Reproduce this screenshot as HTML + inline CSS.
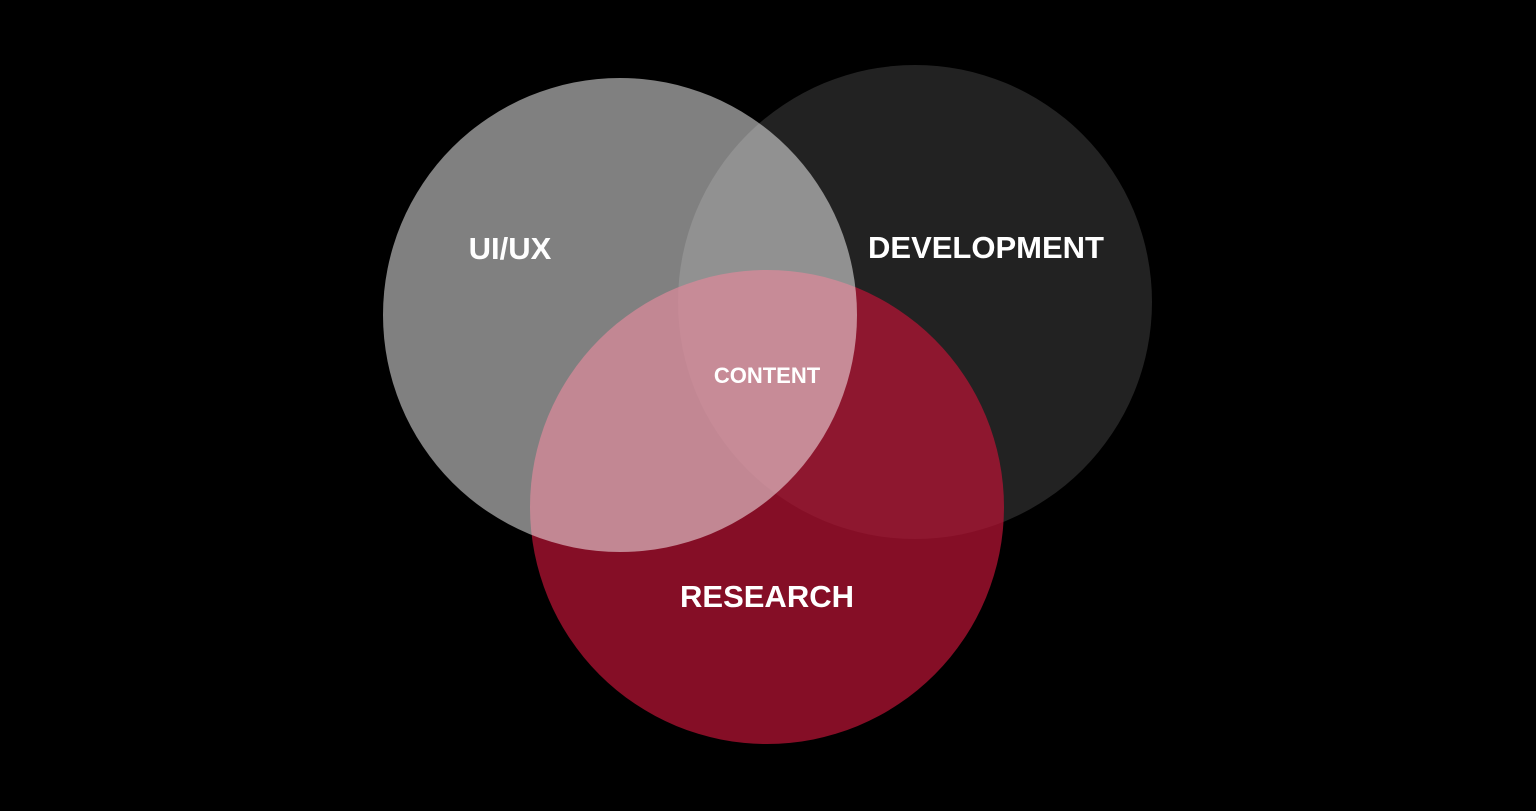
<!DOCTYPE html>
<html><head><meta charset="utf-8"><style>
html,body{margin:0;padding:0;background:#000;}
svg{display:block;}
</style></head><body>
<svg width="1536" height="811" viewBox="0 0 1536 811" xmlns="http://www.w3.org/2000/svg">
<rect width="1536" height="811" fill="#000"/>
<circle cx="915" cy="302" r="237" fill="#222222"/>
<circle cx="767" cy="507" r="237" fill="rgb(181,19,52)" fill-opacity="0.735"/>
<circle cx="620" cy="315" r="237" fill="#ffffff" fill-opacity="0.5"/>
<g font-family="Liberation Sans, sans-serif" font-weight="bold" fill="#fff" text-anchor="middle">
<text x="510" y="259" font-size="31">UI/UX</text>
<text x="986" y="258" font-size="31">DEVELOPMENT</text>
<text x="767" y="383" font-size="22">CONTENT</text>
<text x="767" y="607" font-size="31">RESEARCH</text>
</g>
</svg>
</body></html>
